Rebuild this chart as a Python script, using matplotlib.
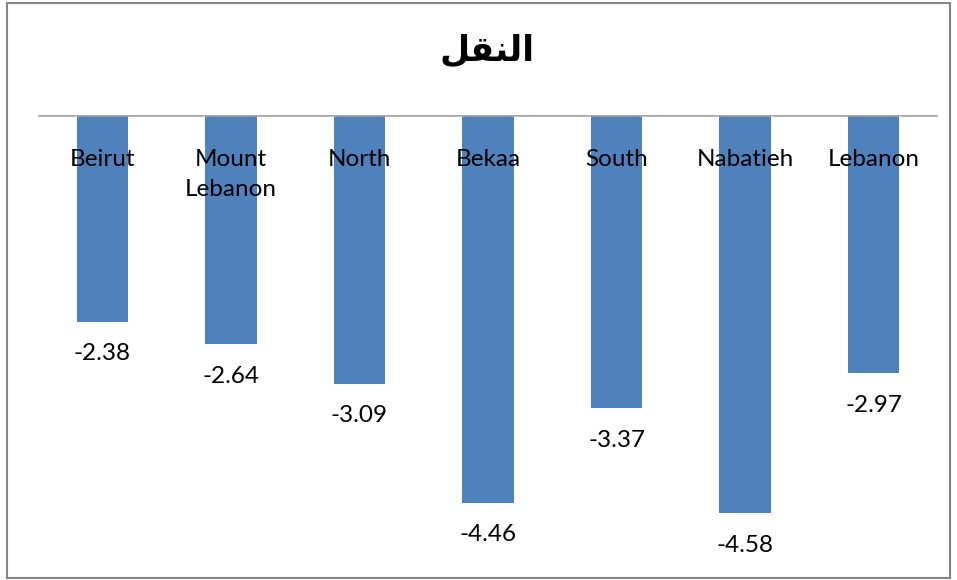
import matplotlib
matplotlib.use("Agg")
import matplotlib.pyplot as plt
from matplotlib.patches import Rectangle
import numpy as np

# data
regions = ["Beirut", "Mount\nLebanon", "North", "Bekaa", "South", "Nabatieh", "Lebanon"]
values = [-2.38, -2.64, -3.09, -4.46, -3.37, -4.58, -2.97]
# "النقل" written in shaped presentation forms, visual (left-to-right) order
title = "\ufede\ufed8\ufee8\ufedf\ufe8d"

bar_color = "#4F81BD"
label_font = "Lato"
font_size = 17.5

W, H = 957, 580
fig = plt.figure(figsize=(W / 100, H / 100), dpi=100)

# axes placed so that y=0 sits at pixel 115 and 1 unit ~ 87 px
ymin = -5.2
px_per_unit = 86.9
ax_h = -ymin * px_per_unit
ax = fig.add_axes([38 / W, 1 - (115 + ax_h) / H, 900 / W, ax_h / H])

x = np.arange(len(regions))
ax.bar(x, values, width=0.4, color=bar_color, zorder=2)
ax.axhline(0, color="#a6a6a6", lw=1.8, zorder=3)

ax.set_xlim(-0.5, len(regions) - 0.5)
ax.set_ylim(ymin, 0)
ax.axis("off")

for i, name in enumerate(regions):
    ax.text(i, -0.39, name, ha="center", va="top", fontsize=font_size,
            family=label_font, linespacing=1.55, zorder=4)

for i, v in enumerate(values):
    ax.text(i, v - 0.37, f"{v:.2f}", ha="center", va="center",
            fontsize=font_size, family=label_font)

fig.text(487 / W, 1 - 51 / H, title, ha="center", va="center",
         fontsize=25, fontweight="bold", family=["DejaVu Sans"])

# chart border
fig.patches.append(Rectangle((7 / W, 2 / H), 943 / W, 575 / H,
                             transform=fig.transFigure, fill=False,
                             edgecolor="#868686", lw=1.5))

fig.savefig("out.png", dpi=100, facecolor="white")
